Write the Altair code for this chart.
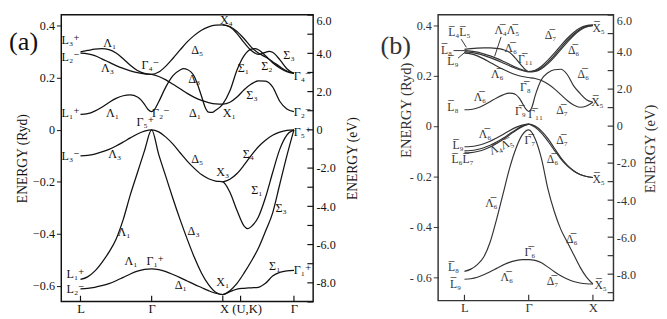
import altair as alt
import pandas as pd

RY2EV = 13.6057
FONT = "'Liberation Serif', 'Times New Roman', 'DejaVu Serif', serif"
O = "\u0305"  # combining overline

# ---------------- panel (a): band values (k: L=0, Gamma=1, X=2, Gamma=3) ----------------
K31 = [0.0, 0.1, 0.2, 0.3, 0.4, 0.5, 0.6, 0.7, 0.8, 0.9, 1.0, 1.1, 1.2, 1.3, 1.4, 1.5,
       1.6, 1.7, 1.8, 1.9, 2.0, 2.1, 2.2, 2.3, 2.4, 2.5, 2.6, 2.7, 2.8, 2.9, 3.0]
A1_E = [-0.611, -0.609, -0.605, -0.599, -0.591, -0.580, -0.567, -0.554, -0.543, -0.536, -0.534,
        -0.537, -0.545, -0.556, -0.568, -0.581, -0.594, -0.606, -0.618, -0.628, -0.633,
        -0.622, -0.612, -0.609, -0.607, -0.605, -0.590, -0.562, -0.548, -0.542, -0.540]
A2_E = [-0.575, -0.565, -0.543, -0.510, -0.470, -0.420, -0.345, -0.250, -0.165, -0.080, 0.0,
        -0.095, -0.180, -0.265, -0.345, -0.420, -0.490, -0.550, -0.595, -0.624, -0.633,
        -0.618, -0.590, -0.550, -0.505, -0.455, -0.390, -0.320, -0.210, -0.100, 0.0]
A3_K = [0.0, 0.1, 0.2, 0.3, 0.4, 0.5, 0.6, 0.7, 0.8, 0.9, 1.0, 1.1, 1.2, 1.3, 1.4, 1.5,
        1.6, 1.7, 1.8, 1.9, 2.0, 2.1, 2.2, 2.3, 2.35, 2.4, 2.5, 2.6, 2.7, 2.8, 2.9, 3.0]
A3_E = [-0.100, -0.098, -0.093, -0.085, -0.075, -0.062, -0.047, -0.031, -0.016, -0.005, 0.0,
        -0.008, -0.028, -0.055, -0.088, -0.120, -0.148, -0.172, -0.188, -0.197, -0.200,
        -0.240, -0.310, -0.370, -0.380, -0.372, -0.335, -0.260, -0.165, -0.075, -0.020, 0.0]
A4_K = [2.0, 2.1, 2.2, 2.3, 2.4, 2.5, 2.6, 2.7, 2.8, 2.9, 3.0]
A4_E = [-0.200, -0.190, -0.168, -0.135, -0.098, -0.065, -0.040, -0.021, -0.009, -0.002, 0.0]
A5_K = [0.0, 0.1, 0.2, 0.3, 0.4, 0.5, 0.6, 0.7, 0.8, 0.85, 0.9, 0.95, 1.0,
        1.05, 1.1, 1.2, 1.3, 1.4, 1.45, 1.5, 1.6, 1.7, 1.75, 1.8, 1.85, 1.9, 2.0,
        2.1, 2.2, 2.3, 2.4, 2.45, 2.5, 2.6, 2.7, 2.8, 2.9, 3.0]
A5_E = [0.059, 0.062, 0.072, 0.087, 0.105, 0.121, 0.131, 0.134, 0.126, 0.115, 0.098, 0.078, 0.070,
        0.082, 0.108, 0.165, 0.208, 0.230, 0.235, 0.232, 0.205, 0.130, 0.088, 0.068, 0.067, 0.075, 0.099,
        0.150, 0.230, 0.285, 0.310, 0.312, 0.308, 0.285, 0.258, 0.238, 0.224, 0.217]
A6_E = [0.295, 0.292, 0.285, 0.273, 0.260, 0.247, 0.236, 0.227, 0.220, 0.215, 0.213,
        0.205, 0.192, 0.175, 0.158, 0.140, 0.125, 0.113, 0.105, 0.100, 0.099,
        0.106, 0.126, 0.154, 0.176, 0.188, 0.187, 0.165, 0.110, 0.080, 0.070]
A7_E = [0.300, 0.305, 0.310, 0.312, 0.308, 0.295, 0.273, 0.248, 0.228, 0.217, 0.213,
        0.222, 0.245, 0.275, 0.307, 0.338, 0.363, 0.383, 0.396, 0.402, 0.403,
        0.397, 0.378, 0.350, 0.318, 0.295, 0.280, 0.262, 0.243, 0.226, 0.217]
A8_K = [2.0, 2.1, 2.2, 2.3, 2.4, 2.5, 2.6, 2.65, 2.7, 2.8, 2.9, 3.0]
A8_E = [0.403, 0.395, 0.370, 0.335, 0.305, 0.290, 0.298, 0.302, 0.298, 0.270, 0.235, 0.217]

# ---------------- panel (b): band values (k: L=0, Gamma=1, X=2) ----------------
K21 = [0.0, 0.1, 0.2, 0.3, 0.4, 0.5, 0.6, 0.7, 0.8, 0.9, 1.0,
       1.1, 1.2, 1.3, 1.4, 1.5, 1.6, 1.7, 1.8, 1.9, 2.0]
K11 = [0.0, 0.1, 0.2, 0.3, 0.4, 0.5, 0.6, 0.7, 0.8, 0.9, 1.0]
B1_E = [-0.608, -0.606, -0.600, -0.590, -0.578, -0.565, -0.552, -0.541, -0.534, -0.530, -0.530,
        -0.533, -0.543, -0.560, -0.578, -0.594, -0.607, -0.617, -0.623, -0.626, -0.627]
B2_E = [-0.577, -0.568, -0.550, -0.520, -0.460, -0.370, -0.270, -0.170, -0.090, -0.035, -0.015,
        -0.050, -0.130, -0.250, -0.340, -0.410, -0.460, -0.510, -0.560, -0.600, -0.627]
B3_E = [-0.082, -0.081, -0.077, -0.070, -0.060, -0.047, -0.033, -0.018, -0.005, 0.004, 0.008,
        0.000, -0.020, -0.050, -0.088, -0.125, -0.155, -0.177, -0.192, -0.200, -0.204]
B4_E = [-0.098, -0.097, -0.093, -0.086, -0.076, -0.063, -0.048, -0.031, -0.014, 0.000, 0.008,
        -0.005, -0.028, -0.060, -0.096, -0.130, -0.158, -0.178, -0.192, -0.200, -0.204]
B5_E = [-0.106, -0.105, -0.101, -0.094, -0.083, -0.069, -0.053, -0.035, -0.017, -0.002, 0.008]
C1_K = [0.0, 0.1, 0.2, 0.3, 0.4, 0.5, 0.6, 0.7, 0.75, 0.8, 0.85, 0.9, 0.95, 1.0,
        1.05, 1.1, 1.2, 1.3, 1.4, 1.5, 1.6, 1.7, 1.8, 1.9, 2.0]
C1_E = [0.065, 0.066, 0.072, 0.083, 0.097, 0.112, 0.124, 0.131, 0.130, 0.125, 0.112, 0.092, 0.070, 0.058,
        0.075, 0.120, 0.185, 0.212, 0.224, 0.226, 0.205, 0.160, 0.130, 0.105, 0.095]
C2_E = [0.290, 0.287, 0.279, 0.267, 0.253, 0.239, 0.226, 0.214, 0.204, 0.197, 0.193,
        0.189, 0.181, 0.167, 0.148, 0.125, 0.102, 0.084, 0.075, 0.080, 0.095]
T1_E = [0.305, 0.308, 0.310, 0.311, 0.311, 0.309, 0.304, 0.293, 0.268, 0.237, 0.217,
        0.222, 0.238, 0.262, 0.290, 0.320, 0.348, 0.372, 0.390, 0.399, 0.402]
T2_E = [0.300, 0.298, 0.294, 0.287, 0.279, 0.269, 0.258, 0.246, 0.234, 0.224, 0.217,
        0.219, 0.232, 0.254, 0.281, 0.311, 0.340, 0.365, 0.385, 0.396, 0.400]
T3_E = [0.295, 0.293, 0.288, 0.281, 0.272, 0.262, 0.251, 0.240, 0.229, 0.221, 0.215,
        0.217, 0.228, 0.248, 0.274, 0.304, 0.333, 0.360, 0.381, 0.394, 0.399]

# ---------------- labels ----------------
LA_T = ["L₃⁺", "L₂⁻", "Λ₁", "Λ₃", "Γ₄⁻", "Δ₅", "X₄", "Δ₃", "Σ₁", "Σ₂", "Σ₃", "Γ₄⁻",
        "Σ₃", "Γ₂⁻", "L₁⁺", "Λ₁", "Γ₂⁻", "Γ₅⁺", "Δ₁", "X₁", "Γ₅⁺", "L₃⁻", "Λ₃", "Δ₅",
        "Σ₄", "X₃", "Σ₁", "Σ₃", "Λ₁", "Δ₃", "Λ₁", "Γ₁⁺", "L₁⁺", "L₂⁻", "Δ₁", "X₁",
        "Σ₁", "Γ₁⁺"]
LA_K = [-0.14, -0.14, 0.41, 0.38, 0.98, 1.64, 2.05, 1.60, 2.29, 2.62, 2.93, 3.12,
        2.41, 3.12, -0.14, 0.45, 1.13, 0.91, 1.61, 2.09, 3.12, -0.14, 0.48, 1.64,
        2.36, 2.00, 2.48, 2.82, 0.61, 1.59, 0.71, 1.05, -0.07, -0.07, 1.41, 2.00,
        2.73, 3.12]
LA_E = [0.345, 0.280, 0.335, 0.236, 0.250, 0.305, 0.420, 0.195, 0.236, 0.243, 0.287, 0.206,
        0.133, 0.070, 0.066, 0.066, 0.066, 0.030, 0.066, 0.066, -0.007, -0.100, -0.095, -0.113,
        -0.095, -0.162, -0.230, -0.300, -0.395, -0.390, -0.505, -0.505, -0.556, -0.611, -0.597, -0.586,
        -0.523, -0.541]

LB_T = ["L" + O + "₄L" + O + "₅", "L" + O + "₈", "L" + O + "₉", "Λ" + O + "₄Λ" + O + "₅",
        "Λ" + O + "₆", "Γ" + O + "₁₁", "Δ" + O + "₇", "Δ" + O + "₆", "X" + O + "₅",
        "Λ" + O + "₆", "Γ" + O + "₈", "Δ" + O + "₆", "Λ" + O + "₆", "L" + O + "₈",
        "Γ" + O + "₉", "Γ" + O + "₁₁", "Δ" + O + "₇", "X" + O + "₅", "Λ" + O + "₆",
        "Δ" + O + "₇", "L" + O + "₉", "L" + O + "₆L" + O + "₇", "Γ" + O + "₇", "Δ" + O + "₆",
        "X" + O + "₅", "Λ" + O + "₆", "Δ" + O + "₆", "Γ" + O + "₆", "L" + O + "₈",
        "L" + O + "₉", "Λ" + O + "₆", "Δ" + O + "₇", "X" + O + "₅"]
LB_K = [-0.08, -0.28, -0.18, 0.66, 0.72, 0.95, 1.34, 1.70, 2.09, 0.51, 0.95, 1.85, 0.24, -0.18,
        0.87, 1.11, 1.52, 2.07, 0.32, 1.52, -0.10, -0.03, 1.02, 1.37, 2.09, 0.42, 1.67, 1.02,
        -0.17, -0.14, 0.66, 1.37, 2.12]
LB_E = [0.372, 0.303, 0.258, 0.380, 0.310, 0.265, 0.360, 0.303, 0.390, 0.207, 0.155, 0.207,
        0.116, 0.077, 0.058, 0.046, 0.065, 0.096, -0.030, -0.056, -0.077, -0.132, -0.057,
        -0.133, -0.210, -0.307, -0.447, -0.500, -0.562, -0.627, -0.600, -0.615, -0.630]
LB_ROT_T = ["Λ" + O + "₄Λ" + O + "₅"]
LB_ROT_K = [0.57]
LB_ROT_E = [-0.080]
ARR_K1 = [-0.05, -0.17, -0.10, 0.57]
ARR_E1 = [0.345, 0.300, 0.270, 0.354]
ARR_K2 = [0.03, 0.00, 0.02, 0.47]
ARR_E2 = [0.313, 0.300, 0.296, 0.277]

RYD_TICKS = [0.4, 0.3, 0.2, 0.1, 0.0, -0.1, -0.2, -0.3, -0.4, -0.5, -0.6]
EV_TICKS = [6, 5, 4, 3, 2, 1, 0, -1, -2, -3, -4, -5, -6, -7, -8, -9]
EV_LABELS = [6, 4, 2, 0, -2, -4, -6, -8]
A_KTICKS = [0, 1, 2, 2.25, 3]
A_KLABELS = [0, 1, 2.25, 3]
B_KTICKS = [0, 1, 2]


def bands(items):
    frames = []
    for name, ks, es in items:
        frames.append(pd.DataFrame({"band": name, "k": ks, "E": es}))
    return pd.concat(frames, ignore_index=True)


def panel(df, xdom, ydom, W, H, kticks, klabels, kexpr, ryd_expr, labels, color, lw,
          letter, letter_k, letter_e, ltitle_y=None, rtitle_y=None, tsize=14,
          extra=None, rtitle_pad=8, ltitle_pad=6, tfs=12.5):
    xs = alt.Scale(domain=xdom, nice=False, zero=False)
    ys = alt.Scale(domain=ydom, nice=False, zero=False)
    evs = alt.Scale(domain=[ydom[0] * RY2EV, ydom[1] * RY2EV], nice=False, zero=False)
    laxis = dict(title="ENERGY (Ryd)", values=RYD_TICKS, labelExpr=ryd_expr, tickSize=5,
                 tickColor=color, domain=False, labelFont=FONT, labelFontSize=12.5,
                 labelColor=color, titleFont=FONT, titleFontSize=tsize, titleFontWeight="normal",
                 titleColor=color, titlePadding=ltitle_pad, labelPadding=2, grid=False)
    if ltitle_y is not None:
        laxis["titleY"] = ltitle_y
    lines = alt.Chart(df).mark_line(interpolate="monotone", color=color, strokeWidth=lw).encode(
        x=alt.X("k:Q", scale=xs, axis=alt.Axis(values=klabels, labelExpr=kexpr, ticks=False,
                                                domain=False, title=None, labelFont=FONT,
                                                labelFontSize=13, labelColor=color,
                                                labelPadding=1, grid=False)),
        y=alt.Y("E:Q", scale=ys, axis=alt.Axis(**laxis)),
        detail="band:N", order="k:Q")
    tdf = pd.DataFrame({"t": labels[0], "k": labels[1], "E": labels[2]})
    texts = alt.Chart(tdf).mark_text(font=FONT, fontSize=tfs, color=color).encode(
        x=alt.X("k:Q", scale=xs), y=alt.Y("E:Q", scale=ys), text="t:N")
    ldf = pd.DataFrame({"t": [letter], "k": [letter_k], "E": [letter_e]})
    let = alt.Chart(ldf).mark_text(font=FONT, fontSize=27, color=color).encode(
        x=alt.X("k:Q", scale=xs), y=alt.Y("E:Q", scale=ys), text="t:N")
    kt = alt.Chart(pd.DataFrame({"k": kticks})).mark_rule(color=color, strokeWidth=1.2).encode(
        x=alt.X("k:Q", scale=xs), y=alt.value(H - 6), y2=alt.value(H))
    layers = [lines, texts, let, kt]
    if extra is not None:
        layers += extra(xs, ys)
    inner = alt.layer(*layers)
    raxis = dict(title="ENERGY (eV)", values=EV_LABELS,
                 labelExpr="datum.value == 0 ? '0' : (datum.value < 0 ? '-' : '') + format(abs(datum.value), '.1f')",
                 ticks=False, domain=False, labelFont=FONT, labelFontSize=12.5, labelColor=color,
                 titleFont=FONT, titleFontSize=tsize, titleFontWeight="normal", titleColor=color,
                 titlePadding=rtitle_pad, labelPadding=3, grid=False, titleAngle=270,
                 titleBaseline="top",
                 labelBaseline={"condition": {"test": "datum.value == 6", "value": "top"}, "value": "middle"})
    if rtitle_y is not None:
        raxis["titleY"] = rtitle_y
    right = alt.Chart(pd.DataFrame({"ev": EV_TICKS})).mark_rule(color=color, strokeWidth=1.2).encode(
        x=alt.value(W - 6), x2=alt.value(W),
        y=alt.Y("ev:Q", scale=evs, axis=alt.Axis(orient="right", **raxis)))
    return alt.layer(inner, right).resolve_scale(y="independent").properties(
        width=W, height=H, view=alt.ViewBackground(stroke=color, strokeWidth=1.5))


dfa = bands([("A1", K31, A1_E), ("A2", K31, A2_E), ("A3", A3_K, A3_E), ("A4", A4_K, A4_E),
             ("A5", A5_K, A5_E), ("A6", K31, A6_E), ("A7", K31, A7_E), ("A8", A8_K, A8_E)])
dfb = bands([("B1", K21, B1_E), ("B2", K21, B2_E), ("B3", K21, B3_E), ("B4", K21, B4_E),
             ("B5", K11, B5_E), ("C1", C1_K, C1_E), ("C2", K21, C2_E), ("T1", K21, T1_E),
             ("T2", K21, T2_E), ("T3", K21, T3_E)])


def extra_b(xs, ys):
    rot = alt.Chart(pd.DataFrame({"t": LB_ROT_T, "k": LB_ROT_K, "E": LB_ROT_E})).mark_text(
        font=FONT, fontSize=12, color="#333", angle=335).encode(
        x=alt.X("k:Q", scale=xs), y=alt.Y("E:Q", scale=ys), text="t:N")
    arr = alt.Chart(pd.DataFrame({"k1": ARR_K1, "e1": ARR_E1, "k2": ARR_K2, "e2": ARR_E2})).mark_rule(
        color="#333", strokeWidth=1).encode(
        x=alt.X("k1:Q", scale=xs), y=alt.Y("e1:Q", scale=ys), x2="k2:Q", y2="e2:Q")
    return [rot, arr]


pa = panel(dfa, [-0.27, 3.27], [-0.660, 0.442], 260, 296, A_KTICKS, A_KLABELS,
           "datum.value == 0 ? 'L' : (datum.value == 2.25 ? 'X (U,K)' : 'Γ')",
           "datum.value == 0 ? '0' : (abs(datum.value * 10) % 2 > 0.5 ? '' : (datum.value < 0 ? '−' : '') + format(abs(datum.value), '.1f'))",
           (LA_T, LA_K, LA_E), "#111", 1.3, "(a)", -0.80, 0.335, ltitle_pad=3, rtitle_pad=11)
pb = panel(dfb, [-0.41, 2.32], [-0.693, 0.442], 181, 295, B_KTICKS, B_KTICKS,
           "datum.value == 0 ? 'L' : (datum.value == 1 ? 'Γ' : 'X')",
           "datum.value == 0 ? '0' : (abs(datum.value * 10) % 2 > 0.5 ? '' : (datum.value < 0 ? '- ' : '') + format(abs(datum.value), '.1f'))",
           (LB_T, LB_K, LB_E), "#333", 1.2, "(b)", -1.07, 0.318,
           ltitle_y=98, rtitle_y=138, tsize=15, extra=extra_b, ltitle_pad=-4, rtitle_pad=8,
           tfs=12)

chart = alt.hconcat(pa, pb, spacing=19).properties(padding=0).configure_view(stroke="#111")
chart.save("out.html", embed_options={"renderer": "svg", "actions": False})
